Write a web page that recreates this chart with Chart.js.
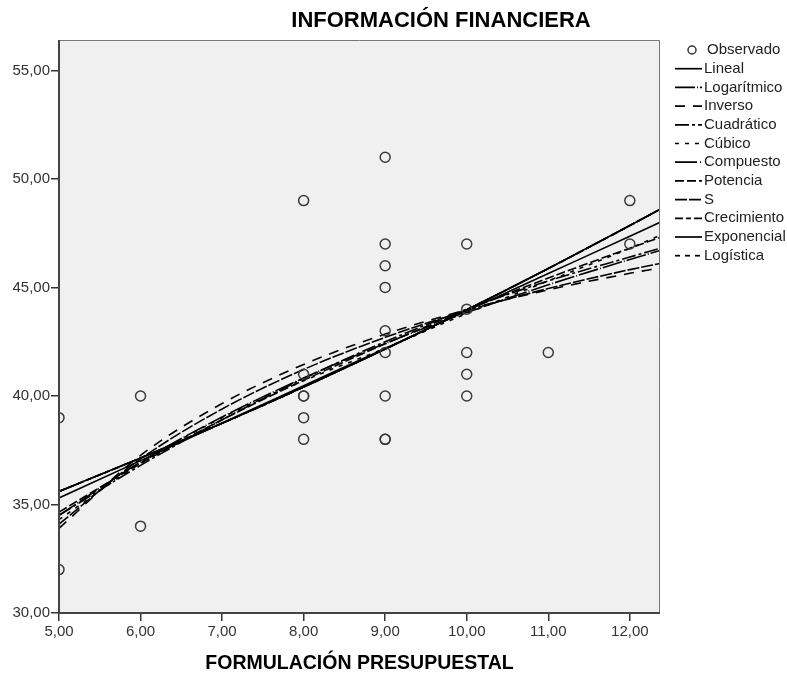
<!DOCTYPE html>
<html>
<head>
<meta charset="utf-8">
<title>Información financiera</title>
<script src="https://cdn.jsdelivr.net/npm/chart.js@4"></script>
<style>
html, body { margin: 0; padding: 0; background: #fff; }
#wrap { width: 787px; height: 675px; }
</style>
</head>
<body>
<div id="wrap"><canvas id="chart" width="787" height="675"></canvas></div>
<script>
// observed points (x = formulación presupuestal, y = información financiera)
var obsX = [5, 5, 6, 6, 8, 8, 8, 8, 8, 8, 9, 9, 9, 9, 9, 9, 9, 9, 9, 10, 10, 10, 10, 10, 11, 12, 12];
var obsY = [39, 32, 40, 34, 49, 41, 40, 40, 39, 38, 51, 47, 46, 45, 43, 42, 40, 38, 38, 47, 44, 42, 41, 40, 42, 49, 47];

// fitted curves at these x positions
var curveX = [5, 6, 7, 8, 9, 10, 11, 12, 12.37];
var linealY = [35.3, 37.02, 38.75, 40.47, 42.19, 43.92, 45.64, 47.36, 48.0];
var logY = [34.5, 36.96, 39.03, 40.83, 42.42, 43.84, 45.12, 46.29, 46.7];
var inversoY = [33.9, 37.26, 39.65, 41.45, 42.85, 43.97, 44.89, 45.65, 45.9];
var cuadY = [34.5, 36.8, 38.9, 40.8, 42.5, 44.0, 45.3, 46.4, 46.8];
var cubicoY = [34.3, 36.9, 39.0, 40.7, 42.2, 43.8, 45.3, 46.8, 47.4];
var potenciaY = [34.65, 36.89, 38.9, 40.72, 42.4, 43.97, 45.43, 46.81, 47.3];
var sY = [34.1, 37.1, 39.4, 41.22, 42.7, 43.93, 44.95, 45.82, 46.1];
var expY = [35.6, 37.14, 38.74, 40.41, 42.16, 43.97, 45.87, 47.85, 48.6]; // compuesto, crecimiento, exponencial, logística coinciden

var xTicks = [5, 6, 7, 8, 9, 10, 11, 12];
var yTicks = [30, 35, 40, 45, 50, 55];

var FONT = '"Liberation Sans", Arial, sans-serif';
var LEGEND_TOP = 50;
var LEGEND_STEP = 18.7;

function pts(xs, ys) {
    return xs.map(function (x, i) { return { x: x, y: ys[i] }; });
}

function fmt(v) {
    return v.toFixed(2).replace(".", ",");
}

function curve(label, ys, dash) {
    return {
        label: label,
        data: pts(curveX, ys),
        showLine: true,
        borderColor: "#000",
        borderWidth: 1.6,
        borderDash: dash,
        pointRadius: 0,
        cubicInterpolationMode: "monotone",
        fill: false
    };
}

var frame = {
    id: "frame",
    beforeDatasetsDraw: function (chart) {
        var a = chart.chartArea, ctx = chart.ctx;
        ctx.save();
        ctx.fillStyle = "#f0f0f0";
        ctx.fillRect(a.left, a.top, a.right - a.left, a.bottom - a.top);
        ctx.restore();
    },
    afterDraw: function (chart) {
        var a = chart.chartArea, ctx = chart.ctx;
        ctx.save();
        ctx.strokeStyle = "#777";
        ctx.lineWidth = 1;
        ctx.beginPath();
        ctx.moveTo(a.left, a.top + 0.5);
        ctx.lineTo(a.right - 0.5, a.top + 0.5);
        ctx.lineTo(a.right - 0.5, a.bottom);
        ctx.stroke();
        ctx.strokeStyle = "#444";
        ctx.lineWidth = 2;
        ctx.beginPath();
        ctx.moveTo(a.left, a.top);
        ctx.lineTo(a.left, a.bottom);
        ctx.lineTo(a.right, a.bottom);
        ctx.stroke();

        // title
        ctx.fillStyle = "#000";
        ctx.font = "bold 22px " + FONT;
        ctx.textAlign = "center";
        ctx.textBaseline = "middle";
        ctx.fillText("INFORMACIÓN FINANCIERA", 441, 21);

        // legend
        ctx.font = "15px " + FONT;
        ctx.textAlign = "left";
        ctx.fillStyle = "#222";
        chart.data.datasets.forEach(function (ds, i) {
            var y = LEGEND_TOP + i * LEGEND_STEP;
            ctx.save();
            ctx.strokeStyle = "#000";
            if (!ds.showLine) {
                ctx.lineWidth = 1.5;
                ctx.strokeStyle = "#333";
                ctx.beginPath();
                ctx.arc(692, y, 4, 0, Math.PI * 2);
                ctx.stroke();
                ctx.restore();
                ctx.fillText(ds.label, 707, y);
                return;
            }
            ctx.lineWidth = 1.7;
            ctx.setLineDash(ds.borderDash || []);
            ctx.beginPath();
            ctx.moveTo(675, y);
            ctx.lineTo(702, y);
            ctx.stroke();
            ctx.restore();
            ctx.fillText(ds.label, 704, y);
        });
        ctx.restore();
    }
};

new Chart(document.getElementById("chart"), {
    type: "scatter",
    data: {
        datasets: [
            {
                label: "Observado",
                data: pts(obsX, obsY),
                pointRadius: 5,
                pointBorderWidth: 1.5,
                pointBorderColor: "#3a3a3a",
                pointBackgroundColor: "rgba(0,0,0,0)",
                showLine: false
            },
            curve("Lineal", linealY, []),
            curve("Logarítmico", logY, [20, 2, 1, 2]),
            curve("Inverso", inversoY, [10, 8]),
            curve("Cuadrático", cuadY, [14, 3, 3, 3]),
            curve("Cúbico", cubicoY, [4, 6]),
            curve("Compuesto", expY, [22, 3, 1, 3]),
            curve("Potencia", potenciaY, [9, 3]),
            curve("S", sY, [12, 2]),
            curve("Crecimiento", expY, [8, 3, 5, 3]),
            curve("Exponencial", expY, []),
            curve("Logística", expY, [5, 5])
        ]
    },
    options: {
        responsive: false,
        animation: false,
        events: [],
        layout: { padding: { top: 40, right: 127, left: 0, bottom: 0 } },
        plugins: {
            legend: { display: false },
            tooltip: { enabled: false }
        },
        scales: {
            x: {
                type: "linear",
                min: 5,
                max: 12.37,
                afterBuildTicks: function (s) { s.ticks = xTicks.map(function (v) { return { value: v }; }); },
                afterFit: function (s) { s.height = 62; },
                grid: { drawOnChartArea: false, drawTicks: true, tickLength: 8, color: "#333", lineWidth: 1.5 },
                border: { display: false },
                ticks: {
                    color: "#333",
                    padding: 2,
                    maxRotation: 0,
                    font: { family: FONT, size: 15 },
                    callback: function (v) { return fmt(v); }
                },
                title: {
                    display: true,
                    text: "FORMULACIÓN PRESUPUESTAL",
                    color: "#000",
                    font: { family: FONT, size: 19.5, weight: "bold" },
                    padding: { top: 4, bottom: 0 }
                }
            },
            y: {
                type: "linear",
                min: 30,
                max: 56.4,
                afterBuildTicks: function (s) { s.ticks = yTicks.map(function (v) { return { value: v }; }); },
                afterFit: function (s) { s.width = 59; },
                grid: { drawOnChartArea: false, drawTicks: true, tickLength: 8, color: "#333", lineWidth: 1.5 },
                border: { display: false },
                ticks: {
                    color: "#333",
                    padding: 1,
                    font: { family: FONT, size: 15 },
                    callback: function (v) { return fmt(v); }
                }
            }
        }
    },
    plugins: [frame]
});
</script>
</body>
</html>
